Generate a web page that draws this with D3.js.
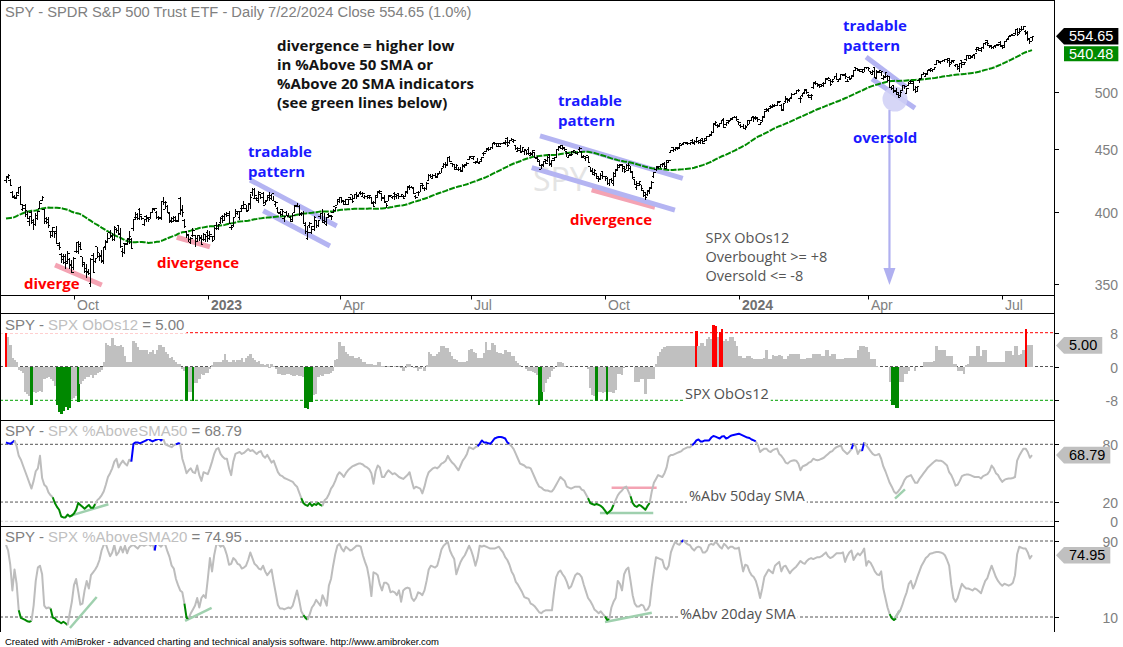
<!DOCTYPE html>
<html><head><meta charset="utf-8">
<script src="https://cdn.jsdelivr.net/npm/d3@7"></script>
<style>html,body{margin:0;padding:0;background:#fff;}svg{display:block;}</style>
</head><body>
<svg id="chart" width="1123" height="647"></svg>
<script>
// ---------------- DATA ----------------
const startDate = "2022-08-17", endDate = "2024-07-22";
const holidays = ["2022-09-05","2022-11-24","2022-12-26","2023-01-02","2023-01-16","2023-02-20","2023-04-07","2023-05-29","2023-06-19","2023-07-04","2023-09-04","2023-11-23","2023-12-25","2024-01-01","2024-01-15","2024-02-19","2024-03-29","2024-05-27","2024-06-19","2024-07-04"];
// closes before the first plotted bar (used only to seed the 50-day SMA)
const warmupClose = [415.74,411.22,401.44,389.80,375.00,373.87,379.20,366.65,365.86,375.07,374.39,378.06,390.08,388.59,380.65,380.34,377.25,
381.24,381.96,383.25,388.99,388.67,384.23,380.83,378.83,377.91,385.13,381.95,392.27,394.77,398.79,395.09,395.57,390.89,401.04,406.07,411.99,
410.77,408.06,414.45,414.17,413.47,412.99,411.35,419.99,419.99,427.10,428.86,429.70];
const open = [424,427,424,415,411,410,415,419,402,405,401,
393,400,394,391,395,403,409,402,395,392,386,383,386,386,376,370,366,368,365,366,362,
361,372,372,375,368,364,358,358,350,369,365,375,368,369,365,375,378,381,383,380,387,
390,384,372,377,377,381,380,388,396,396,402,397,391,397,395,396,400,402,400,396,396,
408,402,404,399,393,395,394,394,410,401,394,386,384,378,383,383,379,383,381,380,380,
385,383,382,382,390,388,392,397,394,398,399,389,390,396,399,396,403,403,403,401,
406,415,410,410,409,413,414,405,409,411,410,409,406,403,400,402,395,400,397,
396,393,400,405,404,399,399,390,381,390,385,387,394,390,397,399,394,391,398,397,400,404,405,
408,411,408,406,406,411,413,410,413,412,415,412,411,412,411,411,407,407,411,
415,414,410,407,408,412,411,414,412,414,412,412,412,415,419,419,418,412,415,415,422,418,
418,424,428,426,428,427,430,430,435,437,436,443,438,437,433,433,433,432,435,437,441,
443,442,439,439,438,441,446,448,450,449,451,455,454,454,454,454,454,459,455,457,
456,453,448,450,448,448,449,449,444,445,447,442,441,433,437,441,440,445,438,442,443,449,452,
453,450,448,443,444,448,447,446,449,448,443,442,444,435,432,429,430,427,425,431,
427,426,422,425,422,427,433,436,437,435,433,432,434,431,425,419,422,421,416,415,413,416,
419,427,433,435,435,437,438,435,439,447,451,449,451,450,453,454,455,454,454,457,455,
456,456,455,459,456,457,460,461,464,472,470,470,472,474,471,474,474,475,477,477,
473,470,469,467,469,471,474,478,477,476,471,474,478,484,484,487,487,487,488,490,488,
484,491,493,493,495,498,499,501,494,497,500,501,497,495,504,509,508,507,505,508,
508,512,511,510,512,515,510,513,517,517,510,514,512,515,523,522,520,521,521,523,
523,519,517,523,514,519,520,513,515,515,515,504,506,501,498,497,501,506,499,506,510,508,
502,504,511,513,517,515,517,521,522,521,526,530,528,529,530,531,532,528,530,525,526,524,
530,526,531,535,532,533,535,541,543,540,543,547,550,545,545,543,544,546,548,
545,543,549,552,555,556,557,562,558,562,562,560,558,551,553];
const high = [428,429,425,416,413,415,419,420,406,406,401,
397,401,395,399,401,408,412,402,396,396,386,389,386,390,378,371,370,370,372,367,366,
368,378,379,378,368,364,363,360,367,371,367,375,371,373,375,380,385,387,385,390,388,
390,388,374,377,381,386,381,395,400,399,403,397,395,398,396,400,403,403,401,397,408,
411,408,405,400,396,397,397,399,411,405,395,386,384,382,388,383,383,383,383,385,383,
387,386,382,389,393,391,396,398,399,400,401,390,396,402,401,401,405,408,405,407,
414,418,418,411,416,414,415,409,413,415,414,412,408,404,401,402,397,401,399,
397,399,405,407,405,400,401,393,390,393,390,397,394,394,399,402,399,396,399,398,402,404,410,
411,411,408,410,410,411,413,414,415,414,416,415,413,413,413,411,408,413,416,
417,414,413,407,413,413,412,415,413,414,414,413,416,420,421,420,419,413,416,421,422,419,
423,429,429,429,430,430,432,434,438,439,443,444,438,437,437,435,435,437,437,439,444,
444,444,440,442,440,443,447,450,451,451,455,456,455,454,455,456,457,460,457,459,
457,453,451,453,451,449,449,451,447,449,447,444,441,437,440,441,444,445,441,443,450,452,453,
453,450,448,445,447,449,448,447,451,448,445,443,444,435,434,433,430,428,430,431,
428,427,425,426,431,433,437,437,437,436,437,438,436,432,425,424,424,421,417,415,417,419,
424,431,436,436,437,438,439,441,441,449,451,451,451,455,454,456,456,456,456,458,457,
460,457,458,459,459,461,462,465,471,474,471,472,475,476,473,475,476,477,478,478,
474,471,471,470,475,474,477,478,478,476,473,477,483,485,485,488,489,489,492,492,489,
490,496,494,494,499,499,502,503,496,499,503,502,498,498,508,510,508,507,507,509,
513,514,512,512,515,518,512,517,517,518,512,515,516,521,524,522,521,522,524,524,
524,519,521,524,521,520,520,516,519,516,515,506,506,504,500,502,506,507,504,509,511,510,
506,506,513,517,519,518,521,523,522,524,530,531,530,531,532,532,533,531,531,527,527,528,
530,529,535,535,536,536,537,544,543,543,548,549,551,546,546,545,546,547,550,
546,550,552,555,556,557,562,563,563,565,565,561,560,552,555];
const low = [422,425,420,411,410,410,414,405,401,396,395,
390,391,387,390,394,403,408,391,391,388,381,382,381,377,373,364,363,360,363,360,357,
359,371,370,373,361,357,354,356,348,357,364,367,365,364,363,373,378,381,379,379,385,
383,374,368,370,376,377,374,386,394,394,394,394,390,393,393,395,399,401,395,394,394,
405,402,399,392,392,393,393,393,398,396,388,381,378,377,382,375,378,379,376,379,378,
378,380,378,380,387,387,391,392,394,396,391,387,389,396,398,394,400,403,400,401,
402,412,410,408,407,410,406,405,408,408,409,408,404,399,397,397,393,397,396,
393,393,399,404,397,397,391,384,380,388,384,386,388,389,395,392,391,390,396,394,399,401,405,
407,407,405,405,405,409,407,410,410,411,413,412,410,410,410,406,404,406,411,
414,408,408,403,408,411,410,409,410,410,411,410,411,414,417,418,414,410,412,415,418,416,
417,424,426,425,426,426,429,430,434,434,436,439,435,433,433,432,431,432,434,436,441,
443,441,437,438,437,440,444,447,448,449,450,453,451,451,453,454,453,451,454,457,
455,449,448,446,447,445,445,445,444,444,442,439,436,433,435,437,439,436,435,440,442,448,450,
449,448,443,442,444,446,446,445,447,442,442,440,438,431,429,428,425,423,425,425,
424,421,420,422,420,427,433,434,431,430,433,432,430,425,421,417,420,417,411,409,412,414,
418,426,432,433,434,435,433,434,439,446,447,448,449,450,452,453,454,453,453,454,453,
455,454,454,454,456,457,460,461,463,469,468,469,472,468,469,471,474,475,476,474,
470,468,467,466,469,471,474,473,475,473,470,473,476,482,482,485,485,487,487,490,483,
483,490,490,491,495,497,498,500,490,495,498,498,494,493,503,507,505,504,505,505,
508,512,506,508,512,511,509,511,515,512,509,512,512,514,521,520,519,519,519,522,
520,517,517,513,513,518,515,511,513,509,504,502,499,498,494,495,501,503,498,506,508,501,
499,500,508,513,516,515,517,519,519,521,526,528,527,529,529,528,524,527,528,524,521,519,
523,526,530,533,532,533,532,539,540,539,542,546,545,543,542,542,543,545,544,
542,543,549,551,555,555,556,555,557,560,562,556,550,547,550];
const close = [426.65,427.89,420.12,411.88,410.97,412.35,418.51,405.31,402.63,398.21,395.18,
396.42,392.24,390.76,397.78,400.38,406.60,410.97,393.10,394.60,389.90,385.56,388.55,384.09,377.39,374.22,367.95,364.31,363.38,370.53,362.79,357.18,
366.61,377.76,376.35,373.20,362.79,360.02,357.74,356.56,365.97,357.63,366.82,371.13,368.50,365.41,374.29,378.87,384.92,382.02,379.98,389.02,386.21,
384.52,374.87,371.01,376.35,379.95,382.00,374.13,394.69,398.51,395.12,398.49,395.45,394.24,396.03,394.59,399.90,402.42,402.33,395.91,395.23,407.68,
407.38,406.91,399.59,393.83,393.16,396.24,393.28,398.95,401.97,399.40,389.63,383.27,380.02,380.54,386.23,380.72,382.91,381.40,376.66,383.44,382.43,
380.82,383.76,379.38,388.08,387.86,390.58,395.52,396.96,398.50,397.77,391.49,388.64,395.88,400.63,400.20,400.35,404.75,405.68,400.59,406.48,
410.80,416.78,412.35,409.83,415.19,410.65,407.09,408.04,412.83,412.64,413.98,408.28,407.26,399.09,398.54,400.66,396.38,397.73,396.26,
394.74,397.81,404.19,404.47,398.27,398.92,391.56,385.91,385.36,391.73,389.28,396.11,389.99,393.74,398.91,392.11,393.17,395.75,397.52,396.49,401.35,403.70,409.39,
410.95,408.67,407.60,409.19,409.61,409.72,408.05,413.47,412.46,413.94,414.21,414.14,411.88,412.20,412.63,406.08,404.36,412.41,415.93,
415.51,410.84,408.02,405.13,412.63,412.87,411.59,413.38,412.77,411.59,413.01,410.55,415.24,419.24,418.62,418.79,414.09,411.09,414.65,420.02,420.18,417.85,
421.82,427.92,427.10,428.03,426.55,429.13,429.90,433.80,436.66,437.18,442.60,439.46,437.18,434.94,436.51,433.21,431.44,436.17,436.39,438.11,443.28,
443.79,443.13,439.66,438.55,439.66,442.46,446.02,449.56,449.28,450.84,454.19,454.20,452.18,452.16,454.20,455.44,455.51,452.49,456.92,457.79,
456.48,450.13,448.84,446.81,450.71,448.75,445.75,445.91,445.65,448.11,442.89,439.64,436.29,436.50,439.34,438.15,443.03,436.89,439.97,442.76,449.16,451.01,450.35,
451.19,449.24,446.22,444.85,445.52,448.45,445.99,446.51,450.36,443.37,443.63,442.71,438.64,431.39,430.42,432.23,425.88,426.05,428.52,427.48,
427.31,421.59,424.66,424.50,429.54,432.29,434.54,436.32,433.66,431.50,436.04,436.02,430.21,426.43,421.19,420.46,423.63,417.55,412.55,410.68,415.59,418.20,
422.66,430.76,434.69,435.69,436.93,437.25,433.84,440.61,440.19,448.73,449.68,450.23,450.79,454.26,453.27,455.02,455.30,454.48,454.93,454.61,456.40,
459.10,456.69,456.60,454.76,458.23,460.20,461.99,464.10,470.50,472.01,469.33,471.97,474.84,468.26,472.70,473.65,475.65,476.51,476.69,475.31,
472.65,468.79,467.28,467.92,474.60,473.88,476.56,476.35,476.68,474.93,472.29,476.49,482.43,483.45,484.86,485.39,488.03,487.41,491.27,490.89,482.88,
489.20,494.35,492.55,493.98,498.10,498.32,501.20,500.98,494.08,498.57,502.01,499.51,496.76,497.21,507.50,507.85,505.99,506.93,506.26,508.08,
512.85,512.30,507.18,509.75,514.81,511.72,511.28,516.78,515.97,514.95,509.83,512.86,515.71,520.48,522.20,521.21,519.77,518.81,523.17,523.07,
522.16,518.84,519.41,513.07,518.43,518.72,519.32,514.12,518.00,510.85,504.45,503.53,500.55,499.52,495.16,499.72,505.65,505.41,503.49,508.26,510.06,501.98,
500.35,505.03,511.29,516.57,517.14,517.19,520.17,520.84,520.91,523.30,529.78,528.69,529.45,530.06,531.36,529.83,525.96,529.44,529.81,526.10,522.61,527.37,
527.80,528.39,534.67,534.66,534.01,535.66,536.95,541.36,542.45,542.78,547.10,548.49,547.00,544.51,542.74,544.83,545.51,546.37,544.22,
545.34,549.01,551.46,554.64,555.28,555.82,561.32,556.48,559.99,561.53,564.86,556.94,552.66,548.99,554.65];
const obos = [9,7,5,2,1.5,1,-0.8,-1,-1.5,-6,-6.5,-7,-9,-6,-6.3,-6,-5.8,-6,-3,-2.8,
-2.5,-3,-3.5,-4.5,-9.2,-10.8,-11.2,-10.6,-9.5,-10.2,-9.8,-7.8,-7.5,-7,-8.3,-4.1,-3.5,-3,-2.5,-2.5,
-2,-2.8,-2,-1.5,-1.2,-0.8,1,5.5,5,4.8,6.8,5,4.8,4.8,5,4.5,2.5,1,1,1,
6,5.5,4.5,4,4,3.8,4,3,3.5,4,3,4,5,5,4.5,3.5,3,2,2.2,1.5,
1,0.5,0.5,-0.5,-1,-8.2,-6,-6,-8.2,-4,-4,-3,-1.8,-2,-1.5,-1.5,-0.5,0.3,1,1,
1,1,1.5,3,1.5,1,1,1.5,1,1.5,1.5,2,1,2,2.5,3,2,1.5,1,1.2,
0.5,0.5,0.3,0.5,-0.3,0.5,0.2,-0.5,-1.8,-1.8,-2,-2,-1.8,-1.8,-2,-2.2,-2.2,-2,-2.2,-2.3,
-2.5,-9.8,-10,-8.5,-8.4,-6.8,-6.5,-2.5,-2,-2.2,-1.8,-1.8,-1.8,-1.5,-1,1.5,1.8,5.7,4.8,4.8,
3.5,3,2.5,2.5,2,2,2.2,1.8,1,1,0.5,0.5,0.5,0.3,0.3,1,1,0.2,0.1,0,
0.1,0,-0.2,0.1,0,0.1,-0.3,-1,-0.3,0.5,0.5,0,-0.3,-0.3,-1,-0.5,0,-1,0.3,3.5,
3,2.5,2.5,3,3.5,4.8,4.8,4.4,4.4,3.5,2.5,1.8,1.5,1,1,1,1,1.2,4,4.2,
3.5,3.3,2,2,2,3.3,5.7,4,4,5.6,5.2,3.5,3.3,3.2,3,4,3.5,3.5,2.5,2.5,
1.2,0.8,0.3,0,-0.2,-0.5,-1,-1,-1.4,-1.5,-2,-9,-8.2,-6,-4,-3,-2.5,-1,-0.5,0,
1,1,0.8,0.2,0,0,0,0.1,0,-0.1,0,0,0,-0.2,-0.5,-5,-6.8,-7,-8.2,-6,
-6,-6.2,-6,-8.2,-6,-6,-6.2,-5.5,-1.8,-1.8,-2,-0.3,0,0,0,-0.2,-3.7,-3.7,-3.7,-3,
-3,-6.4,-3,-3,-3,-3,0.5,2.5,3.5,4.2,4.5,4.8,4.8,4.8,4.8,4.8,4.8,4.8,4.8,4.8,
4.8,4.8,4.8,4.8,4.8,8.5,4.8,5.6,5.6,4.8,6.5,7,6.5,9.8,9.5,7,8.1,8.9,6,6.5,
6,7,7,6,4.8,2.5,2.5,2,2,2.5,2.5,2,1.7,1.7,1.7,1.7,1.7,2,4,1.7,
1.7,2.8,2.5,2.5,2.8,2.5,1.7,1.7,2.5,2.9,2.9,2.9,2.9,2.9,1.7,1.7,1.7,2,2,2,
2.9,2.9,2.9,2.9,2.5,2.5,4,4,2.5,2.9,2.9,1.7,1.7,1.7,1.7,2,2,2,2,2,
2,4,4.8,4.8,4.8,4.5,3.5,1.7,1.7,1.7,0.2,0,0,0,0,-0.2,-3.7,-9,-9.2,-9.9,
-9.9,-3.7,-3.7,-1.8,-1.8,-1,0,0,-1,0,0,0,1,1,1,1,1,1.2,4.8,4,
4,4,4,2.5,2.5,2.5,0.5,0.5,-1,-1,-1,-1.8,0.3,0.5,2.5,2.5,2.5,4.8,4.8,2.5,
4,4,1,1,1,1,1,1,1,1,1,3.6,3.6,3.6,2.8,4.8,4.8,2.8,3,3.8,
8.8,5,5,5];
const above50 = [82,81,80.5,82,84,78,68,64,58,52,46,40,34,42,52,55,68,45,38,36,
30,27,25,19,15,12,5,4,4,7,5,6,8,12,19,17,15,13,15,17,
14,14,18,22,24,27,31,38,46,50,55,62,65,56,60,63,60,58,64,62,
80.5,82,82,81,82,83,84,86,84,83,84,85,86,84,86,80,79,78,77,79,
80,81,80.5,65,58,50,53,55,51,50,58,48,42,51,50,49,55,62,70,75,
76,70,67,65,65,55,48,62,70,71,72,70,71,73,75,73,74,72,70,72,
73,68,66,69,65,61,63,57,51,48,47,45,44,43,42,41,38,36,30,24,
19,17,16,19,16,18,17,19,17,16,22,24,28,34,37,42,48,51,49,46,
50,53,55,57,58,59,60,60,59,57,56,54,50,39,52,58,56,46,46,50,
53,51,49,50,48,46,45,44,46,48,51,42,34,36,35,34,29,36,45,51,
53,55,56,55,57,60,61,63,68,64,61,59,56,53,58,63,66,70,77,76,
75,77,78,80.5,84,82,82,81,80.5,83,86,87,87.5,87.5,87,86,82,80.5,78,75,
70,65,60,59,58,56,56,55,50,45,40,36,35,33,32,32,31,31,34,38,
42,46,44,42,36,35,34,35,36,36,36,33,32,28,24,19,18,17,18,17,
16,14,11,8,10,12,17,22,27,30,32,35,36,31,26,19,16,15,17,16,
14,12,16,19,31,40,44,48,47,46,50,56,67,69,69,70,71,72,73,75,
76,77,77,79,81,84,85,83,83,84,84,84,87,88.6,88,87,86,88,88.5,86,
87,88.6,89.5,90,90.5,91,90,89,88,87,86.5,85,84,83,79,72,74,75.5,75.5,73,
72,74,75,75.5,70,68,65,61,60,62,63,63.5,63,60,53,57,58,59,61,62,
65,64,63.5,64,65,66,68,70,72,73,75.5,77,78,79,74,72,70,72,75,81,
78,70,74,73,82,79,76,73,70,68.6,69,70,65,57,52,46,40,36,31,29,
31,34,38,43,46,47,48,44,40,40,44,47,50,53,56,58,60,62,63.5,63,
63,62,60,58,51,48,43,37,38,42,47,48,48.5,48.6,48,47,46,46,46,44.5,
47,48,49,52,58,55,50,48,44,41,43,44,44.5,44.5,45,46,63,68,72,75.5,
75.5,72,66,68.79];
const above20 = [86,80,65,38,60,45,17,9,8,7,5.5,5,6,22,48,62,64,55,22,19,
20,19,9.5,8.6,6,5,3.4,5,3.4,1.6,14,26,43.5,50,37,23,24,38,48,40,
54,57,60,64,70,80,86,87,80,74,78,86,75,78,84,78,85,77,83,85,
86,84,82,85,86,85,86,87,85,87,80,93,86,84,87,86,79,73,64,61,
50,43.5,38,36,24,9,8.6,14,18,22,30,20,30,33,30,50,72,58,75,86,
87,84,86,82,75,65,66,72,70,66,65,61,62,64,70,78,72,66,64,61,
60,64,58,54,57,60,47,35,22.6,19,19,18,19,20,19,22,30,38,28,16,
12,9,7,13,20,23,28,25,22,33,28,22,43,50,64,76,85,87,82,79,
84,82,80,81,83,85,85,84,75,68,62,50,32,57,56,54,44,38,46,46,
44,36,37,36,33,38,26,38,40,41,40,30,27,30,36,35,33,38,48,60,
64,63,62,64,72,81,85,87,89,80,75,71,55,62,68,72,75,80,85,80,
73,64,72,85,84,85,84,83,82,82,82,83,84,81,78,73,70,65,58,54,
47,44,40,36,31,30,29,24,23,21,18,15,14,16,17,17,17,17,36,52,
57,59,55,52,47,40,42,48,54,56,55,52,44,37,30,27,23,18,16,14,
16,13,10.5,7,8,20,26,30,48,45,38,55,60,62,48,33,24,21,21,23,
22,17,18,22,42,58,73,72,71,70,62,60,64,78,84,89,87,86,89,91,
88,86.5,85.5,82,80,83,84,83,78,78,80,86,87,86,89,87,84,82,87,85,
82,84,84,82,82,83,70,58,65,64,58,54,52,48,40,30,40,52,56,60,
58,56,64,66,68,58,63,64,60,56,59,61,63,66,69,67,66,69,71,72,
71,72,73,73,74,76,78,74,72,73,75,77,77,77,78,68,74,78,80,70,
74,77,75,78,82,64,69,67,63,58,55,54,58,40,30,20,13,8.6,6.8,8.5,
15,17,23,30,36,45,48,40,45,52,58,64,68,72,74,76.7,77,78,78.5,78.5,
78,77,75,70,64,44,30,26,30,38,45,42,40,40,39,38,40,39,37,35,
42,48,51,58,64,58,52,48,45,43,45,44,43,44,46,54,76,84,83,82,
82,78,71.5,74.95];
const priceTicks = [350, 400, 450, 500];
const obosTicks = [-8, 0, 8];
const a50Ticks = [0, 20, 80];
const a20Ticks = [10, 90];
// hand-drawn annotations, in data coordinates [i0, v0, i1, v1]
const pinkLines = [[23.1,362.5,45.1,349.3],[80.4,381.7,96.0,375.0],[275.7,416.8,305.5,403.6]];
const lavLines = [[114.9,424.6,155.7,389.8],[121.1,401.0,152.5,375.6],[251.4,460.8,318.6,425.9],[247.5,434.4,314.9,401.5],[404.9,533.6,423.7,504.7],[407.7,512.2,427.9,485.3]];
const ovsCircle = [418.5, 493.5];
const ovsArrow = [415.9, 483.5, 349.3];
const a50Green = [[30.9,6.2,48.2,17.7],[279.6,8.6,304.7,8.6],[418.5,23.5,423.2,33.2]];
const a50Pink = [[285.1,34.9,306.3,34.9]];
const a20Green = [[30.1,-1.6,42.7,31.0],[84.3,5.8,96.8,19.5],[282.0,4.7,304.0,14.5],[417.7,6.5,420.9,17.1]];

// ---------------- SETUP ----------------
const N = close.length;
const hol = new Set(holidays);
const fmt = d3.utcFormat("%Y-%m-%d");
const dates = [];
for (let d = d3.utcParse("%Y-%m-%d")(startDate); d <= d3.utcParse("%Y-%m-%d")(endDate); d = d3.utcDay.offset(d, 1)) {
  const wd = d.getUTCDay();
  if (wd === 0 || wd === 6 || hol.has(fmt(d))) continue;
  dates.push(d);
}
const allClose = warmupClose.concat(close);
const sma = close.map((c, i) => d3.mean(allClose.slice(i, i + 50)));

const svg = d3.select("#chart");
const W = 1054;
const AX = "'Liberation Sans', Arial, Helvetica, sans-serif";
const AN = "'Open Sans', 'Noto Sans', 'DejaVu Sans', sans-serif";

const x = d3.scaleLinear().domain([0, N - 1]).range([6, 1032]);
const yP = d3.scaleLog().domain([350, 500]).range([283.9, 92]);
const yO = d3.scaleLinear().domain([-8, 8]).range([400.3, 332.7]);
const yA = d3.scaleLinear().domain([0, 80]).range([521.3, 444.3]);
const yB = d3.scaleLinear().domain([10, 90]).range([617, 541]);

const panes = {price: [0, 295], obos: [313.5, 420], a50: [420, 526], a20: [526, 632]};
const defs = svg.append("defs");
Object.entries(panes).forEach(([k, [t, b]]) => {
  defs.append("clipPath").attr("id", "clip-" + k).append("rect")
    .attr("x", 1).attr("y", t).attr("width", W - 1).attr("height", b - t);
});
svg.append("rect").attr("width", 1123).attr("height", 647).attr("fill", "#fff");

function seg(g, x1, y1, x2, y2, color, w, dash) {
  const l = g.append("line").attr("x1", x1).attr("y1", y1).attr("x2", x2).attr("y2", y2)
    .attr("stroke", color).attr("stroke-width", w);
  if (dash) l.attr("stroke-dasharray", dash);
  return l;
}
function txt(g, s, px, py, o) {
  o = o || {};
  return g.append("text").attr("x", px).attr("y", py).text(s)
    .attr("font-family", o.family || AN).attr("font-size", o.size || 15)
    .attr("font-weight", o.weight || "normal").attr("fill", o.fill || "#000")
    .attr("text-anchor", o.anchor || "start");
}

// ---------------- PRICE PANE ----------------
const gP = svg.append("g").attr("clip-path", "url(#clip-price)");
txt(gP, "SPY", 533, 191, {size: 32, fill: "#e4e4e4"});
pinkLines.forEach(a => seg(gP, x(a[0]), yP(a[1]), x(a[2]), yP(a[3]), "#f4a3b3", 5).attr("stroke-linecap", "butt"));
lavLines.forEach(a => seg(gP, x(a[0]), yP(a[1]), x(a[2]), yP(a[3]), "#b4b4f2", 5));
gP.append("circle").attr("cx", x(ovsCircle[0])).attr("cy", yP(ovsCircle[1])).attr("r", 12.5)
  .attr("fill", "#cfcff6").attr("opacity", 0.85);
// 50-day SMA
gP.append("path").datum(sma)
  .attr("d", d3.line().x((d, i) => x(i)).y(d => yP(d)))
  .attr("fill", "none").attr("stroke", "#008a00").attr("stroke-width", 2).attr("stroke-dasharray", "6,1.2");
// OHLC bars
const barPath = close.map((c, i) => {
  const xi = x(i);
  const h = Math.max(high[i], open[i], c), l = Math.min(low[i], open[i], c);
  return `M${xi},${yP(h)}V${yP(l)}M${xi - 2},${yP(open[i])}H${xi}M${xi},${yP(c)}H${xi + 2}`;
}).join("");
gP.append("path").attr("d", barPath).attr("fill", "none").attr("stroke", "#000")
  .attr("stroke-width", 1).attr("shape-rendering", "crispEdges");
// oversold arrow
{
  const ax = x(ovsArrow[0]), y0 = yP(ovsArrow[1]), tip = yP(ovsArrow[2]);
  seg(gP, ax, y0, ax, tip - 14, "#b0b0f0", 2.2);
  gP.append("polygon").attr("points", `${ax - 6},${tip - 17} ${ax + 6},${tip - 17} ${ax},${tip}`).attr("fill", "#b0b0f0");
}
// title
const lastPct = (close[N - 1] / close[N - 2] - 1) * 100;
txt(gP, `SPY - SPDR S&P 500 Trust ETF - Daily ${d3.utcFormat("%-m/%-d/%Y")(dates[dates.length - 1])} Close ${close[N - 1].toFixed(2)} (${lastPct.toFixed(1)}%)`,
  5, 17, {family: AX, size: 14.7, fill: "#808080"});
// annotation text
["divergence = higher low", "in %Above 50 SMA or", "%Above 20 SMA indicators", "(see green lines below)"]
  .forEach((s, k) => txt(gP, s, 277, 50.7 + k * 19, {weight: "bold", fill: "#141414"}));
const blue = "#1a1aff", red = "#ff0000";
[[248, 157], [558, 106], [843, 31]].forEach(([px, py]) => {
  txt(gP, "tradable", px, py, {weight: "bold", fill: blue});
  txt(gP, "pattern", px, py + 19.5, {weight: "bold", fill: blue});
});
txt(gP, "oversold", 853, 143, {weight: "bold", fill: blue});
txt(gP, "diverge", 24, 289, {weight: "bold", fill: red});
txt(gP, "divergence", 157, 268, {weight: "bold", fill: red});
txt(gP, "divergence", 570, 225, {weight: "bold", fill: red});
["SPX ObOs12", "Overbought >= +8", "Oversold <= -8"].forEach((s, k) =>
  txt(gP, s, 705.5, 243 + k * 19, {size: 14.5, fill: "#555555"}));

// ---------------- DATE STRIP ----------------
const gX = svg.append("g");
for (let i = 1; i < N; i++) {
  const m = dates[i].getUTCMonth();
  if (m !== dates[i - 1].getUTCMonth() && m % 3 === 0) {
    const xi = Math.round(x(i)) + 0.5;
    seg(gX, xi, 295, xi, 299.5, "#000", 1);
    const isYear = m === 0;
    txt(gX, isYear ? d3.utcFormat("%Y")(dates[i]) : d3.utcFormat("%b")(dates[i]), xi + 2.5, 309.5,
      {family: AX, size: 14, fill: isYear ? "#707070" : "#808080", weight: isYear ? "bold" : "normal"});
  }
}

// ---------------- OBOS PANE ----------------
const gO = svg.append("g").attr("clip-path", "url(#clip-obos)");
seg(gO, 0, yO(8), W, yO(8), "#ff0000", 1, "3,2");
seg(gO, 0, yO(0), W, yO(0), "#555", 1, "3,2");
seg(gO, 0, yO(-8), W, yO(-8), "#00a000", 1, "3,2");
const bw = x(1) - x(0);
gO.selectAll("rect.ob").data(obos).join("rect")
  .attr("x", (d, i) => x(i) - bw / 2).attr("width", bw + 0.25)
  .attr("y", d => Math.min(yO(d), yO(0))).attr("height", d => Math.abs(yO(d) - yO(0)))
  .attr("fill", d => d >= 8 ? "#ff0000" : d <= -8 ? "#008800" : "#c0c0c0")
  .attr("shape-rendering", "crispEdges");

// ---------------- %ABOVE PANES ----------------
function colorLine(g, vals, y, hiT, loT) {
  const col = v => v > hiT ? "#0000ff" : v < loT ? "#008800" : "#bdbdbd";
  // each segment (i-1 -> i) takes the colour of its end value; consecutive same-colour segments are merged
  let runStart = 0, runCol = col(vals[1]);
  for (let i = 2; i <= vals.length; i++) {
    const c = i < vals.length ? col(vals[i]) : null;
    if (c !== runCol) {
      const pts = [];
      for (let k = runStart; k < i; k++) pts.push([x(k), y(vals[k])]);
      g.append("path").attr("d", d3.line()(pts)).attr("fill", "none")
        .attr("stroke", runCol).attr("stroke-width", 2).attr("stroke-linejoin", "round");
      runStart = i - 1; runCol = c;
    }
  }
}
const gA = svg.append("g").attr("clip-path", "url(#clip-a50)");
seg(gA, 0, yA(80), W, yA(80), "#555", 1, "3,2");
seg(gA, 0, yA(20), W, yA(20), "#555", 1, "3,2");
seg(gA, 0, yA(0), W, yA(0), "#d4d4d4", 1, "3,2");
a50Green.forEach(a => seg(gA, x(a[0]), yA(a[1]), x(a[2]), yA(a[3]), "#9fd0ae", 2.5));
a50Pink.forEach(a => seg(gA, x(a[0]), yA(a[1]), x(a[2]), yA(a[3]), "#f4a3b3", 2.5));
colorLine(gA, above50, yA, 80, 20);

const gB = svg.append("g").attr("clip-path", "url(#clip-a20)");
seg(gB, 0, yB(90), W, yB(90), "#555", 1, "3,2");
seg(gB, 0, yB(10), W, yB(10), "#555", 1, "3,2");
a20Green.forEach(a => seg(gB, x(a[0]), yB(a[1]), x(a[2]), yB(a[3]), "#9fd0ae", 2.5));
colorLine(gB, above20, yB, 90, 10);

// pane titles with white backing
function paneTitle(top, base, name, val) {
  const g = svg.append("g");
  const t = g.append("text").attr("x", 5).attr("y", base).attr("font-family", AX).attr("font-size", 15);
  t.append("tspan").attr("fill", "#808080").text("SPY - ");
  t.append("tspan").attr("fill", "#c0c0c0").text(name);
  t.append("tspan").attr("fill", "#808080").text(" = " + val.toFixed(2));
  const w = t.node().getComputedTextLength();
  g.insert("rect", "text").attr("x", 1).attr("y", top + 1).attr("width", w + 6).attr("height", base + 3 - top - 1).attr("fill", "#fff");
}
paneTitle(313.5, 330, "SPX ObOs12", obos[N - 1]);
paneTitle(420, 436, "SPX %AboveSMA50", above50[N - 1]);
paneTitle(526, 542, "SPX %AboveSMA20", above20[N - 1]);

function boxedLabel(s, px, py) {
  const g = svg.append("g");
  const t = txt(g, s, px, py, {size: 14.5, fill: "#505050"});
  const w = t.node().getComputedTextLength();
  g.insert("rect", "text").attr("x", px - 2).attr("y", py - 13).attr("width", w + 4).attr("height", 17).attr("fill", "#fff");
}
boxedLabel("SPX ObOs12", 685, 399);
boxedLabel("%Abv 50day SMA", 689, 501);
boxedLabel("%Abv 20day SMA", 680, 619);

// ---------------- FRAME & RIGHT AXIS ----------------
const gF = svg.append("g").attr("shape-rendering", "crispEdges");
seg(gF, 0, 0.5, W, 0.5, "#000", 1);
seg(gF, 0.5, 0, 0.5, 632, "#000", 1);
[295.5, 313.5, 420.5, 526.5].forEach(yy => seg(gF, 0, yy, W + 0.5, yy, "#000", 1));
seg(gF, W + 0.5, 0, W + 0.5, 632, "#000", 1);
function axisTicks(scale, ticks, fmtT) {
  ticks.forEach(v => {
    const yy = Math.round(scale(v)) + 0.5;
    seg(gF, W, yy, W + 5, yy, "#000", 1);
    txt(svg, fmtT(v), 1118, yy + 5, {family: AX, size: 14, fill: "#808080", anchor: "end"});
  });
}
axisTicks(yP, priceTicks, v => String(v));
axisTicks(yO, obosTicks, v => String(v));
axisTicks(yA, a50Ticks, v => String(v));
axisTicks(yB, a20Ticks, v => String(v));

// last-value markers
function valueTag(cy, s, bg, fg, arrow) {
  const g = svg.append("g");
  const t = txt(g, s, 1069, cy + 5, {family: AX, size: 14.5, fill: fg});
  const right = 1069 + t.node().getComputedTextLength() + 5;
  const h = 8.3;
  const pts = arrow ? [[1056, cy], [1064, cy - h], [right, cy - h], [right, cy + h], [1064, cy + h]]
                    : [[1064, cy - h + 0.8], [right, cy - h + 0.8], [right, cy + h - 0.8], [1064, cy + h - 0.8]];
  g.insert("polygon", "text").attr("points", pts.map(p => p.join(",")).join(" ")).attr("fill", bg);
}
const cyClose = yP(close[N - 1]);
valueTag(cyClose, close[N - 1].toFixed(2), "#000", "#fff", true);
valueTag(Math.max(yP(sma[N - 1]), cyClose + 17.5), sma[N - 1].toFixed(2), "#008a00", "#fff", false);
valueTag(yO(obos[N - 1]), obos[N - 1].toFixed(2), "#c0c0c0", "#000", true);
valueTag(yA(above50[N - 1]), above50[N - 1].toFixed(2), "#c0c0c0", "#000", true);
valueTag(yB(above20[N - 1]), above20[N - 1].toFixed(2), "#c0c0c0", "#000", true);

// footer
txt(svg, "Created with AmiBroker - advanced charting and technical analysis software. http://www.amibroker.com", 5, 645,
  {family: AX, size: 9.5, fill: "#000"});
</script>
</body></html>
